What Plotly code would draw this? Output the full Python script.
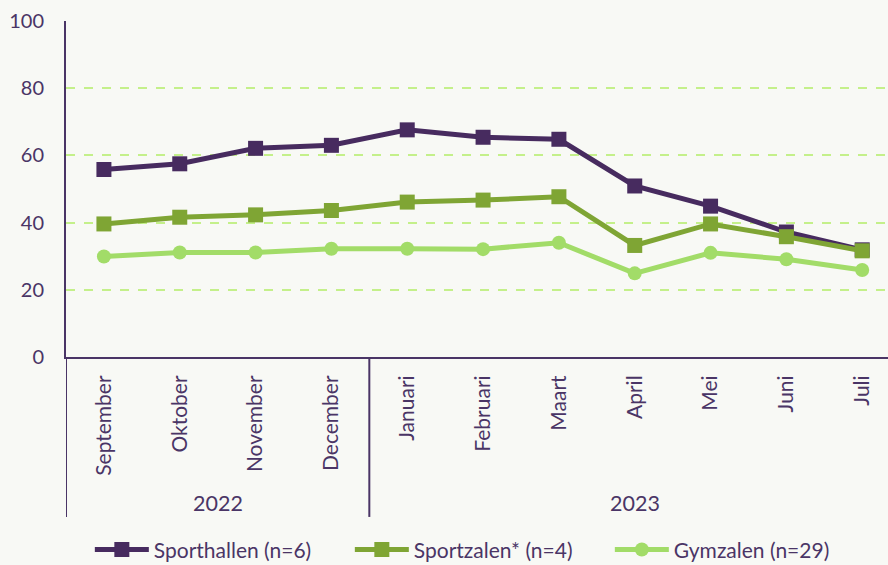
import plotly.graph_objects as go

months = ["September", "Oktober", "November", "December", "Januari", "Februari",
          "Maart", "April", "Mei", "Juni", "Juli"]
years = ["2022", "2023"]
year_groups = [(0, 3), (4, 10)]

sporthallen = [55.8, 57.5, 62.1, 63.0, 67.6, 65.4, 64.8, 50.9, 44.9, 37.2, 31.9]
sportzalen = [39.6, 41.6, 42.3, 43.6, 46.1, 46.7, 47.7, 33.2, 39.6, 35.8, 31.6]
gymzalen = [29.9, 31.1, 31.1, 32.2, 32.2, 32.1, 34.0, 24.9, 31.0, 29.1, 25.9]

names = ["Sporthallen (n=6)", "Sportzalen* (n=4)", "Gymzalen (n=29)"]
colors = ["#472b5f", "#7fa534", "#a2dc68"]
symbols = ["square", "square", "circle"]

TXT = "#4a3566"
BG = "#f8f9f5"
FONT = "Lato"

fig = go.Figure()
for vals, name, col, sym in zip([sporthallen, sportzalen, gymzalen], names, colors, symbols):
    fig.add_trace(go.Scatter(
        x=list(range(len(months))), y=vals, name=name, mode="lines+markers",
        line=dict(color=col, width=5),
        marker=dict(symbol=sym, size=15 if sym == "square" else 14, color=col),
    ))

fig.update_layout(
    width=888, height=565,
    paper_bgcolor=BG, plot_bgcolor=BG,
    margin=dict(l=66, r=0, t=21, b=208, autoexpand=False),
    font=dict(family=FONT, color=TXT, size=20),
    showlegend=True,
    legend=dict(orientation="h", x=0.029, xanchor="left", y=-0.574, yanchor="middle",
                font=dict(size=21, color=TXT), bgcolor="rgba(0,0,0,0)",
                entrywidth=191, itemwidth=54, tracegroupgap=0),
)
fig.update_yaxes(range=[0, 100], tickvals=[0, 20, 40, 60, 80, 100],
                 showgrid=True, gridcolor="#c4f08a", griddash="dash", gridwidth=1.5,
                 showline=True, linecolor=TXT, linewidth=2, zeroline=False, automargin=False,
                 ticks="", ticklabelstandoff=16, tickfont=dict(size=20, color=TXT))
fig.update_xaxes(range=[-0.5, 10.34], tickvals=list(range(len(months))), ticktext=months,
                 tickangle=-90, showgrid=False, zeroline=False, automargin=False,
                 showline=True, linecolor=TXT, linewidth=2,
                 ticks="", ticklabelstandoff=8, tickfont=dict(size=21, color=TXT))

# year group dividers and labels
for xpos in [-0.5, 3.5]:
    fig.add_shape(type="line", xref="x", yref="paper", x0=xpos, x1=xpos, y0=0, y1=-0.476,
                  line=dict(color=TXT, width=2))
for yr, (a, b) in zip(years, year_groups):
    fig.add_annotation(x=(a + b) / 2, y=-0.435, xref="x", yref="paper", text=yr,
                       showarrow=False, font=dict(size=21.5, color=TXT), yanchor="middle")

fig.write_html("out.html", config={"displayModeBar": False},
               post_script="document.body.style.margin='0px';")
